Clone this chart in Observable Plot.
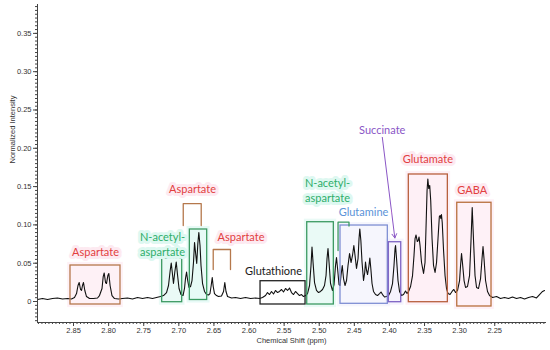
<!DOCTYPE html>
<html>
<head>
<meta charset="utf-8">
<script src="https://cdn.jsdelivr.net/npm/d3@7"></script>
<script src="https://cdn.jsdelivr.net/npm/@observablehq/plot@0.6"></script>
<style>
  html, body { margin: 0; padding: 0; background: #fff; }
  #chart { width: 550px; height: 350px; }
</style>
</head>
<body>
<div id="chart"></div>
<script>
// Spectrum (chemical shift in ppm, normalized intensity)
const ppm = [
  2.9013, 2.8942, 2.8870, 2.8799, 2.8728, 2.8657, 2.8585, 2.8529, 2.8486, 2.8457,
  2.8436, 2.8419, 2.8400, 2.8386, 2.8372, 2.8358, 2.8339, 2.8315, 2.8272, 2.8215,
  2.8158, 2.8130, 2.8094, 2.8077, 2.8063, 2.8044, 2.8030, 2.8011, 2.7997, 2.7979,
  2.7952, 2.7916, 2.7859, 2.7802, 2.7731, 2.7660, 2.7588, 2.7517, 2.7446, 2.7375,
  2.7318, 2.7261, 2.7218, 2.7175, 2.7147, 2.7123, 2.7108, 2.7093, 2.7076, 2.7058,
  2.7037, 2.7019, 2.6997, 2.6969, 2.6940, 2.6919, 2.6905, 2.6890, 2.6876, 2.6855,
  2.6833, 2.6812, 2.6791, 2.6776, 2.6762, 2.6745, 2.6729, 2.6715, 2.6698, 2.6684,
  2.6662, 2.6634, 2.6605, 2.6577, 2.6556, 2.6539, 2.6524, 2.6510, 2.6492, 2.6463,
  2.6435, 2.6392, 2.6363, 2.6345, 2.6328, 2.6306, 2.6249, 2.6192, 2.6121, 2.6050,
  2.5979, 2.5907, 2.5850, 2.5808, 2.5765, 2.5737, 2.5708, 2.5680, 2.5651, 2.5623,
  2.5594, 2.5566, 2.5537, 2.5509, 2.5480, 2.5452, 2.5423, 2.5395, 2.5366, 2.5338,
  2.5309, 2.5281, 2.5252, 2.5224, 2.5195, 2.5167, 2.5138, 2.5117, 2.5103, 2.5088,
  2.5067, 2.5039, 2.5010, 2.4982, 2.4953, 2.4925, 2.4903, 2.4889, 2.4875, 2.4860,
  2.4839, 2.4811, 2.4789, 2.4768, 2.4754, 2.4739, 2.4718, 2.4704, 2.4690, 2.4672,
  2.4654, 2.4633, 2.4611, 2.4590, 2.4568, 2.4547, 2.4526, 2.4507, 2.4490, 2.4469,
  2.4447, 2.4433, 2.4422, 2.4407, 2.4390, 2.4369, 2.4352, 2.4341, 2.4326, 2.4312,
  2.4293, 2.4279, 2.4265, 2.4248, 2.4227, 2.4198, 2.4170, 2.4141, 2.4120, 2.4098,
  2.4070, 2.4041, 2.4013, 2.3984, 2.3956, 2.3935, 2.3920, 2.3913, 2.3899, 2.3878,
  2.3856, 2.3828, 2.3799, 2.3771, 2.3749, 2.3728, 2.3699, 2.3671, 2.3650, 2.3635,
  2.3621, 2.3603, 2.3591, 2.3578, 2.3564, 2.3543, 2.3514, 2.3493, 2.3476, 2.3464,
  2.3453, 2.3440, 2.3426, 2.3412, 2.3393, 2.3372, 2.3350, 2.3329, 2.3308, 2.3289,
  2.3279, 2.3268, 2.3259, 2.3248, 2.3229, 2.3208, 2.3187, 2.3165, 2.3137, 2.3108,
  2.3083, 2.3058, 2.3030, 2.3001, 2.2987, 2.2973, 2.2959, 2.2937, 2.2916, 2.2888,
  2.2859, 2.2838, 2.2821, 2.2802, 2.2781, 2.2759, 2.2731, 2.2702, 2.2681, 2.2667,
  2.2653, 2.2631, 2.2603, 2.2574, 2.2531, 2.2474, 2.2418, 2.2361, 2.2304, 2.2247,
  2.2190, 2.2133, 2.2076, 2.2019, 2.1962, 2.1905, 2.1862, 2.1819, 2.1791
];
const intensity = [
  0.0026, 0.0039, 0.0026, 0.0039, 0.0046, 0.0033, 0.0039, 0.0033, 0.0052, 0.0104,
  0.0209, 0.0248, 0.0157, 0.0144, 0.0209, 0.0248, 0.0144, 0.0065, 0.0039, 0.0039,
  0.0046, 0.0078, 0.0170, 0.0326, 0.0372, 0.0248, 0.0235, 0.0339, 0.0366, 0.0209,
  0.0078, 0.0039, 0.0033, 0.0039, 0.0046, 0.0033, 0.0052, 0.0039, 0.0052, 0.0039,
  0.0052, 0.0065, 0.0078, 0.0117, 0.0209, 0.0405, 0.0503, 0.0379, 0.0235, 0.0379,
  0.0516, 0.0352, 0.0170, 0.0091, 0.0078, 0.0170, 0.0300, 0.0385, 0.0287, 0.0183,
  0.0196, 0.0274, 0.0509, 0.0770, 0.0640, 0.0496, 0.0757, 0.0901, 0.0731, 0.0470,
  0.0235, 0.0131, 0.0091, 0.0085, 0.0104, 0.0209, 0.0313, 0.0196, 0.0104, 0.0078,
  0.0065, 0.0072, 0.0131, 0.0248, 0.0131, 0.0065, 0.0046, 0.0052, 0.0039, 0.0052,
  0.0039, 0.0046, 0.0039, 0.0052, 0.0078, 0.0117, 0.0091, 0.0131, 0.0098, 0.0144,
  0.0117, 0.0131, 0.0157, 0.0124, 0.0170, 0.0144, 0.0176, 0.0117, 0.0091, 0.0131,
  0.0104, 0.0078, 0.0091, 0.0065, 0.0078, 0.0104, 0.0209, 0.0470, 0.0711, 0.0509,
  0.0248, 0.0144, 0.0117, 0.0131, 0.0157, 0.0209, 0.0339, 0.0561, 0.0692, 0.0509,
  0.0235, 0.0144, 0.0222, 0.0470, 0.0574, 0.0431, 0.0222, 0.0209, 0.0339, 0.0470,
  0.0300, 0.0209, 0.0274, 0.0470, 0.0627, 0.0509, 0.0601, 0.0731, 0.0601, 0.0431,
  0.0561, 0.0822, 0.0946, 0.0796, 0.0509, 0.0274, 0.0379, 0.0516, 0.0405, 0.0352,
  0.0457, 0.0568, 0.0431, 0.0235, 0.0131, 0.0091, 0.0078, 0.0104, 0.0124, 0.0091,
  0.0059, 0.0065, 0.0078, 0.0131, 0.0235, 0.0470, 0.0692, 0.0731, 0.0561, 0.0274,
  0.0131, 0.0078, 0.0091, 0.0137, 0.0104, 0.0131, 0.0196, 0.0339, 0.0601, 0.0822,
  0.0868, 0.0783, 0.0796, 0.0842, 0.0731, 0.0509, 0.0366, 0.0509, 0.1057, 0.1449,
  0.1599, 0.1475, 0.1514, 0.1319, 0.0822, 0.0470, 0.0379, 0.0509, 0.0822, 0.1110,
  0.1123, 0.1084, 0.1136, 0.1031, 0.0666, 0.0339, 0.0170, 0.0104, 0.0091, 0.0131,
  0.0157, 0.0117, 0.0144, 0.0274, 0.0470, 0.0627, 0.0496, 0.0274, 0.0183, 0.0196,
  0.0339, 0.0796, 0.1227, 0.0796, 0.0339, 0.0183, 0.0170, 0.0300, 0.0561, 0.0718,
  0.0561, 0.0274, 0.0131, 0.0078, 0.0052, 0.0065, 0.0039, 0.0052, 0.0039, 0.0059,
  0.0039, 0.0052, 0.0033, 0.0052, 0.0065, 0.0046, 0.0091, 0.0131, 0.0144
];

// Annotation boxes
const boxX1 =     [2.8543, 2.7237, 2.6843, 2.5836, 2.5171, 2.4697, 2.4009, 2.3724, 2.3034];
const boxX2 =     [2.7831, 2.6952, 2.6596, 2.5195, 2.4792, 2.4023, 2.3832, 2.3168, 2.2546];
const boxTop =    [0.0470, 0.0561, 0.0940, 0.0265, 0.1035, 0.0992, 0.0774, 0.1658, 0.1289];
const boxBottom = [-0.0039, -0.0009, 0.0020, -0.0039, -0.0039, -0.0030, -0.0009, -0.0009, -0.0065];
const boxStroke = ["#b5784c", "#3c9a62", "#3c9a62", "#222222", "#3c9a62", "#7f8fd4", "#7d62c4", "#b8603e", "#b8703e"];
const boxGlow =   ["#fde6ef", "#d9f6ee", "#d4f6ee", null, "#d9f6ee", "#eeeefc", "#eeeafc", "#fde3ee", "#fde6f0"];

// Open brackets (Aspartate x2, N-acetyl-aspartate)
const bracketX1 =    [2.6937, 2.6510, 2.4732];
const bracketX2 =    [2.6681, 2.6264, 2.4576];
const bracketTop =   [0.1279, 0.0679, 0.1035];
const bracketLeftBottom =  [0.0992, 0.0418, 0.0666];
const bracketRightBottom = [0.0992, 0.0418, 0.0985];
const bracketStroke = ["#b5784c", "#b5784c", "#3c9a62"];

// Labels
const labelText = ["Aspartate", "N-acetyl-\naspartate", "Aspartate", "Aspartate", "Glutathione",
                   "N-acetyl-\naspartate", "Glutamine", "Succinate", "Glutamate", "GABA"];
const labelX = [2.8187, 2.7232, 2.6805, 2.6114, 2.5651, 2.4882, 2.4369, 2.4103, 2.3453, 2.2821];
const labelY = [0.0653, 0.0757, 0.1475, 0.0849, 0.0405, 0.1462, 0.1179, 0.2245, 0.1876, 0.1471];
const labelColor = ["#e2403f", "#2fae6a", "#e2403f", "#e2403f", "#1a1a1a",
                    "#2fae6a", "#5b93d8", "#8a56c6", "#e2403f", "#e2403f"];
const labelHalo = ["#fdeaf1", "#def8f1", "#fdeaf1", "#fdeaf1", "#ffffff",
                   "#def8f1", "#ffffff", "#ffffff", "#fdeaf1", "#fdeaf1"];

// Succinate arrow
const arrowFrom = [2.4103, 0.2154];
const arrowTo = [2.3923, 0.0829];

// Axis ticks
const xTicks = [2.85, 2.80, 2.75, 2.70, 2.65, 2.60, 2.55, 2.50, 2.45, 2.40, 2.35, 2.30, 2.25];
const yTicks = [0, 0.05, 0.10, 0.15, 0.20, 0.25, 0.30, 0.35];

const spectrum = ppm.map((x, i) => ({x, y: intensity[i]}));
const boxes = boxX1.map((x1, i) => ({x1, x2: boxX2[i], y1: boxBottom[i], y2: boxTop[i], stroke: boxStroke[i], glow: boxGlow[i]}));
const glows = boxes.filter(b => b.glow);
const padX = 0.004, padY = 0.004;
const bracketPts = [];
bracketX1.forEach((x1, i) => {
  const x2 = bracketX2[i];
  bracketPts.push({k: i, x: x1, y: bracketLeftBottom[i], c: bracketStroke[i]});
  bracketPts.push({k: i, x: x1, y: bracketTop[i], c: bracketStroke[i]});
  bracketPts.push({k: i, x: x2, y: bracketTop[i], c: bracketStroke[i]});
  bracketPts.push({k: i, x: x2, y: bracketRightBottom[i], c: bracketStroke[i]});
});
const labels = labelText.map((t, i) => ({t, x: labelX[i], y: labelY[i], c: labelColor[i], h: labelHalo[i]}));

const minorX = d3.range(436, 581).map(i => i / 200);
const minorY = d3.range(-5, 78).map(i => i / 200);

const chart = Plot.plot({
  width: 550,
  height: 350,
  marginLeft: 37,
  marginRight: 5,
  marginTop: 4,
  marginBottom: 28,
  x: {domain: [2.9013, 2.1777], axis: null},
  y: {domain: [-0.0274, 0.3877], axis: null},
  style: {fontFamily: "'Liberation Sans', Arial, sans-serif", fontSize: "7.5px", color: "#333", background: "#fff"},
  marks: [
    Plot.rect(glows, {x1: d => d.x1 + padX, x2: d => d.x2 - padX, y1: d => d.y1 - padY, y2: d => d.y2 + padY, fill: d => d.glow, fillOpacity: 0.55}),
    Plot.line(spectrum, {x: "x", y: "y", stroke: "#111", strokeWidth: 1.1, clip: true}),
    Plot.rect(boxes, {x1: "x1", x2: "x2", y1: "y1", y2: "y2", fill: "none", stroke: d => d.stroke, strokeWidth: 1.3}),
    Plot.line(bracketPts, {x: "x", y: "y", z: "k", stroke: d => d.c, strokeWidth: 1.3, strokeLinejoin: "round"}),
    Plot.arrow([{}], {x1: () => arrowFrom[0], y1: () => arrowFrom[1], x2: () => arrowTo[0], y2: () => arrowTo[1], stroke: "#8a56c6", strokeWidth: 1, headLength: 7}),
    Plot.text(labels, {x: "x", y: "y", text: "t", fill: d => d.c, stroke: d => d.h, strokeWidth: 6, paintOrder: "stroke", fontSize: 11, fontFamily: "Lato, 'Open Sans', sans-serif", lineHeight: 1.4}),
    Plot.axisX(minorX, {tickSize: 2, text: null, label: null, stroke: "#444"}),
    Plot.axisX(xTicks, {tickSize: 4, tickPadding: 1, tickFormat: d => d.toFixed(2), label: null, stroke: "#444", fill: "#333"}),
    Plot.axisY(minorY, {tickSize: 2, text: null, label: null, stroke: "#444"}),
    Plot.axisY(yTicks, {tickSize: 4, tickPadding: 2, tickFormat: d => d === 0 ? "0" : d.toFixed(2), label: null, stroke: "#444", fill: "#333"}),
    Plot.frame({anchor: "left", stroke: "#444"}),
    Plot.frame({anchor: "bottom", stroke: "#444"}),
    Plot.text(["Chemical Shift (ppm)"], {frameAnchor: "bottom", dy: 20, fill: "#333", fontSize: 7.5}),
    Plot.text(["Normalized Intensity"], {frameAnchor: "left", dx: -25, rotate: -90, fill: "#333", fontSize: 7.5})
  ]
});
document.getElementById("chart").append(chart);
</script>
</body>
</html>
